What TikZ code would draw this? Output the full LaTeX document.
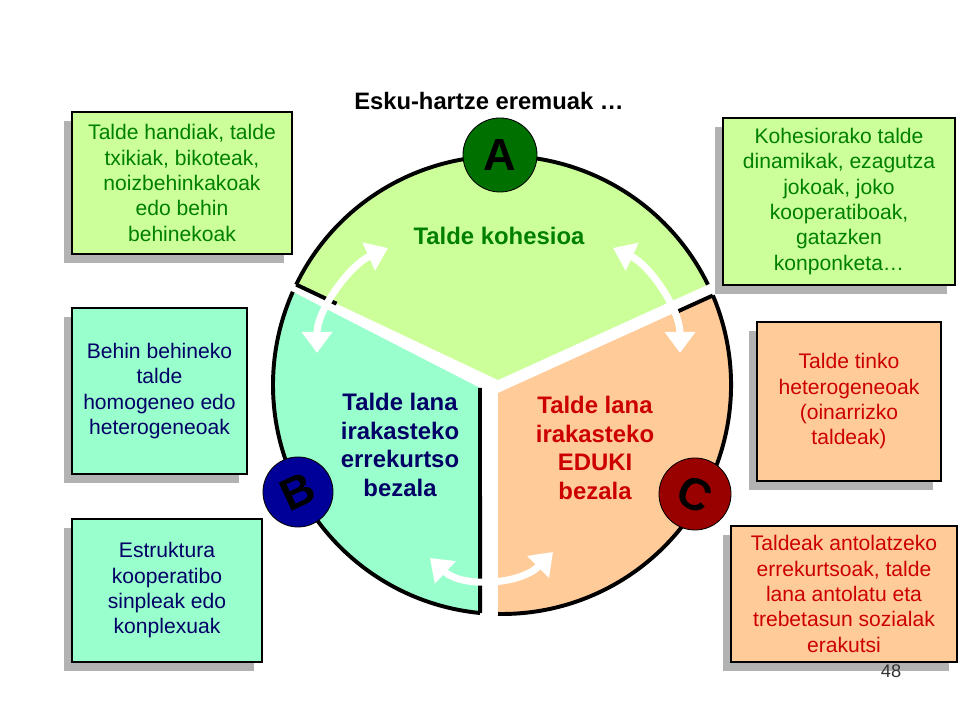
\documentclass[tikz,border=0pt]{standalone}
\usepackage{fontspec}
\setmainfont{Liberation Sans}
\usetikzlibrary{calc,shadows,arrows.meta}

\definecolor{kohgreen}{RGB}{204,255,153}
\definecolor{resblue}{RGB}{153,255,204}
\definecolor{edukorange}{RGB}{255,204,153}
\definecolor{kohtext}{RGB}{0,128,0}
\definecolor{restext}{RGB}{0,0,102}
\definecolor{edutext}{RGB}{204,0,0}
\definecolor{agreen}{RGB}{0,112,0}
\definecolor{bblue}{RGB}{0,0,153}
\definecolor{cred}{RGB}{153,0,0}

\begin{document}
\begin{tikzpicture}[x=0.025cm, y=0.025cm,
    box/.style={draw, line width=0.8pt, align=center, inner sep=2pt,
        font=\fontsize{15}{18}\selectfont,
        drop shadow={shadow xshift=-0.2cm, shadow yshift=-0.22cm, opacity=1, fill=black!30}},
    letter/.style={circle, draw, line width=0.6pt, inner sep=0pt, font=\fontsize{32}{32}\selectfont\bfseries},
    sector/.style={align=center, font=\fontsize{17}{20.5}\selectfont\bfseries},
    twoway/.style={white, line width=5pt, {Triangle[length=15pt,width=21pt]}-{Triangle[length=15pt,width=21pt]}}]

    \useasboundingbox (0,0) rectangle (960,720);

    % Centre of the wheel
    \coordinate (O) at (502,335);

    % Three sectors: fill, then black rim
    \foreach \col/\vx/\vy/\sa/\ea in {kohgreen/498/340/154/26, resblue/480/332/156/264.5, edukorange/498/327/269/383} {
        \fill[\col] (\vx,\vy) -- ($(O)+(\sa:229)$) arc[start angle=\sa, end angle=\ea, radius=5.725cm] -- cycle;
        \draw[line width=2.8pt] ($(O)+(\sa:229)$) arc[start angle=\sa, end angle=\ea, radius=5.725cm];
    }

    % Black edges left beside the white gaps
    \coordinate (gv) at (498,340);
    \coordinate (gr) at ($(O)+(154:229)$);
    \coordinate (bv) at (480,332);
    \coordinate (br) at ($(O)+(264.5:229)$);
    \coordinate (ov) at (498,327);
    \coordinate (or) at ($(O)+(23:229)$);
    \draw[line width=2.8pt] (bv) -- (br);
    \draw[line width=2.8pt] (gr) -- ($(gr)!0.2!(gv)$);
    \draw[line width=2.8pt] (or) -- ($(or)!0.16!(ov)$);

    % Two-way arrows between the sectors
    \coordinate (ab1) at (317,367);
    \coordinate (ab2) at (388,472);
    \coordinate (ac1) at (613,472);
    \coordinate (ac2) at (680,367);
    \coordinate (bc1) at (430,162);
    \coordinate (bc2) at (553,168);
    \draw[twoway] (ab1) .. controls (317,410) and (350,455) .. (ab2);
    \draw[twoway] (ac1) .. controls (650,455) and (680,410) .. (ac2);
    \draw[twoway] (bc1) .. controls (462,132) and (520,135) .. (bc2);

    % Title
    \node (title) at (489,619) {\fontsize{16.9}{20}\selectfont\bfseries Esku-hartze eremuak …};

    % Sector labels
    \node[sector, text=kohtext] (kohesio) at (499,484) {Talde kohesioa};
    \node[sector, text=restext] (errekurtso) at (400,275) {Talde lana\\irakasteko\\errekurtso\\bezala};
    \node[sector, text=edutext] (eduki) at (595,272) {Talde lana\\irakasteko\\EDUKI\\bezala};

    % Letter discs
    \node[letter, fill=agreen, minimum size=1.85cm] (A) at (500,565) {A};
    \node[letter, fill=bblue, minimum size=1.75cm, rotate=25] (B) at (298,228) {B};
    \node[letter, fill=cred, minimum size=1.8cm, rotate=-25] (C) at (695,226) {C};

    % Boxes for A
    \node[box, fill=kohgreen, text=kohtext, minimum width=5.5cm, minimum height=3.55cm] (A1) at (182,537)
        {Talde handiak, talde\\txikiak, bikoteak,\\noizbehinkakoak\\edo behin\\behinekoak};
    \node[box, fill=kohgreen, text=kohtext, minimum width=5.8cm, minimum height=4.175cm] (A2) at (839,518.5)
        {Kohesiorako talde\\dinamikak, ezagutza\\jokoak, joko\\kooperatiboak,\\gatazken\\konponketa…};

    % Boxes for B
    \node[box, fill=resblue, text=restext, minimum width=4.375cm, minimum height=4.15cm] (B1) at (159.5,329)
        {Behin behineko\\talde\\homogeneo edo\\heterogeneoak};
    \node[box, fill=resblue, text=restext, minimum width=4.75cm, minimum height=3.575cm] (B2) at (167,129.5)
        {Estruktura\\kooperatibo\\sinpleak edo\\konplexuak};

    % Boxes for C
    \node[box, fill=edukorange, text=edutext, minimum width=4.6cm, minimum height=3.975cm] (C1) at (849,318.5)
        {Talde tinko\\heterogeneoak\\(oinarrizko\\taldeak)};
    \node[box, fill=edukorange, text=edutext, minimum width=5.65cm, minimum height=3.4cm] (C2) at (844,126)
        {Taldeak antolatzeko\\errekurtsoak, talde\\lana antolatu eta\\trebetasun sozialak\\erakutsi};

    % Page number
    \node[text=black!80, font=\fontsize{13}{15}\selectfont] (page) at (891,49) {48};

\end{tikzpicture}
\end{document}
